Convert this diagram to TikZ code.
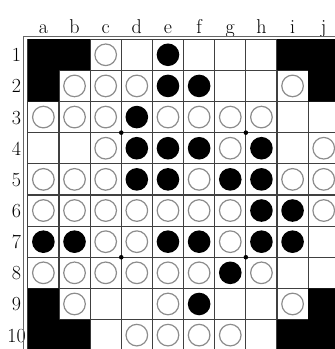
\documentclass[tikz,border=0pt]{standalone}
\usepackage{tikz}

\tikzset{
  whitestone/.style={fill=white, draw=black!45, line width=1.2pt},
  blackstone/.style={fill=black},
  boardlabel/.style={inner sep=0pt, outer sep=0pt, anchor=base, font=\fontsize{20}{20}\selectfont}
}

\begin{document}
\begin{tikzpicture}[x=1pt,y=-1pt]
\useasboundingbox (0,0) rectangle (335,349);
\clip (0,0) rectangle (335,349);
\begin{scope}[shift={(27.8,39.2)}, x=31.15pt, y=-31.15pt]
% labels
\foreach \c [count=\i] in {a,b,c,d,e,f,g,h,i,j}
  \node[boardlabel] (col-\c) at (\i-0.5,-0.17) {\c};
\foreach \r in {1,...,10}
  \node[boardlabel] (row-\r) at (-0.36,\r-0.275) {\r};
% board
\foreach \k in {1,...,9} {
  \draw[line width=1.2pt, black!75] (\k,0) -- (\k,10);
  \draw[line width=1.2pt, black!75] (0,\k) -- (10,\k);
}
\draw[line width=1.1pt, black!60] (-0.13,-0.1) rectangle (10.13,10.1);
\draw[line width=1.2pt, black!75] (0,0) rectangle (10,10);
\fill[black] (0,0) rectangle (2,1) (0,1) rectangle (1,2);
\fill[black] (8,0) rectangle (10,1) (9,1) rectangle (10,2);
\fill[black] (0,8) rectangle (1,9) (0,9) rectangle (2,10);
\fill[black] (9,8) rectangle (10,9) (8,9) rectangle (10,10);
\foreach \p in {(3,3),(7,3),(3,7),(7,7)}
  \fill[black] \p circle (2.3pt);
% stones
\foreach \r/\cols in {1/{3}, 2/{2,3,4,9}, 3/{1,2,3,5,6,7,8}, 4/{3,7,10},
    5/{1,2,3,6,9,10}, 6/{1,2,3,4,5,6,7,10}, 7/{3,4,7},
    8/{1,2,3,4,5,6,8}, 9/{2,5,9}, 10/{4,5,6,7}}
  \foreach \c in \cols
    \draw[whitestone] (\c-0.5,\r-0.5) circle (10.8pt);
\foreach \r/\cols in {1/{5}, 2/{5,6}, 3/{4}, 4/{4,5,6,8}, 5/{4,5,7,8},
    6/{8,9}, 7/{1,2,5,6,8,9}, 8/{7}, 9/{6}}
  \foreach \c in \cols
    \fill[blackstone] (\c-0.5,\r-0.5) circle (11.3pt);
\end{scope}
\end{tikzpicture}
\end{document}
